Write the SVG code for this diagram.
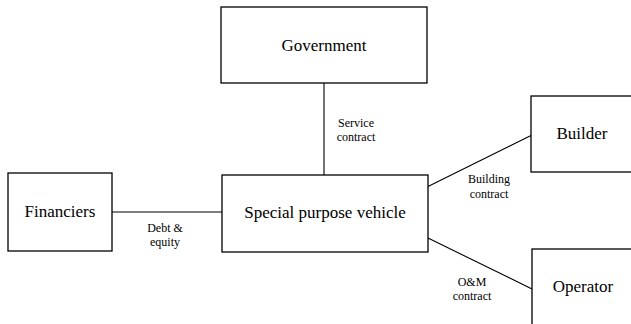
<svg xmlns="http://www.w3.org/2000/svg" width="631" height="324" viewBox="0 0 631 324">
<style>
.box{fill:#fff;stroke:#000;stroke-width:1.3}
.big{font-size:17px;fill:#000;text-anchor:middle}
.small{font-size:12px;fill:#000;text-anchor:middle}
.conn{stroke:#000;stroke-width:1.1;fill:none}
</style>
<rect width="631" height="324" fill="#fff"/>
<g id="connectors" font-family="Liberation Serif, Times New Roman, DejaVu Serif, serif">
<line class="conn" x1="324" y1="83" x2="324" y2="175"/>
<line class="conn" x1="112" y1="212" x2="222" y2="212"/>
<line class="conn" x1="428" y1="186.5" x2="531" y2="135.5"/>
<line class="conn" x1="428" y1="238" x2="532" y2="289"/>
<text class="small" x="356" y="127">Service</text>
<text class="small" x="356" y="141">contract</text>
<text class="small" x="165" y="232">Debt &amp;</text>
<text class="small" x="165" y="246">equity</text>
<text class="small" x="489" y="183">Building</text>
<text class="small" x="489" y="198">contract</text>
<text class="small" x="472" y="286">O&amp;M</text>
<text class="small" x="472" y="300">contract</text>
</g>
<g id="government" font-family="Liberation Serif, Times New Roman, DejaVu Serif, serif">
<rect class="box" x="221" y="7" width="206" height="76"/>
<text class="big" x="324" y="51">Government</text>
</g>
<g id="financiers" font-family="Liberation Serif, Times New Roman, DejaVu Serif, serif">
<rect class="box" x="8" y="173" width="104" height="78"/>
<text class="big" x="60" y="217">Financiers</text>
</g>
<g id="spv" font-family="Liberation Serif, Times New Roman, DejaVu Serif, serif">
<rect class="box" x="222" y="175" width="206" height="77"/>
<text class="big" x="325" y="218">Special purpose vehicle</text>
</g>
<g id="builder" font-family="Liberation Serif, Times New Roman, DejaVu Serif, serif">
<rect class="box" x="531" y="96" width="110" height="76"/>
<text class="big" x="582" y="139">Builder</text>
</g>
<g id="operator" font-family="Liberation Serif, Times New Roman, DejaVu Serif, serif">
<rect class="box" x="532" y="249" width="110" height="90"/>
<text class="big" x="583" y="292">Operator</text>
</g>
</svg>
